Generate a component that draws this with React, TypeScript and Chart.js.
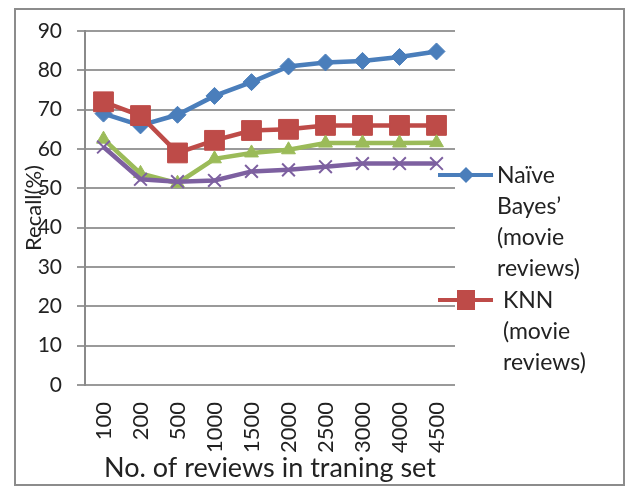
import React, { useEffect, useRef } from "react";
import { Chart, registerables } from "chart.js";

Chart.register(...registerables);

const categories = ["100", "200", "500", "1000", "1500", "2000", "2500", "3000", "4000", "4500"];
const naiveMovie = [69, 66, 68.7, 73.5, 77, 81, 82, 82.4, 83.4, 84.8];
const knnMovie = [72, 68.5, 59, 62.2, 64.7, 65, 66, 66, 66, 66];
const naiveHotel = [62.5, 53.8, 51.3, 57.5, 59, 59.8, 61.5, 61.5, 61.5, 61.6];
const knnHotel = [60.5, 52.3, 51.7, 52, 54.3, 54.7, 55.5, 56.3, 56.3, 56.3];
const yTicks = [0, 10, 20, 30, 40, 50, 60, 70, 80, 90];

const yTitle = "Recall(%)";
const xTitle = "No. of reviews in traning set";
const legendNaive = ["Naïve", "Bayes’", "(movie", "reviews)"];
const legendKnn = ["KNN", "(movie", "reviews)"];

const BLUE = "#4a7ebb";
const RED = "#be4b48";
const GREEN = "#9bbb59";
const PURPLE = "#7d60a0";
const FONT = "Lato";

const legendPlugin = {
  id: "sideLegend",
  afterDraw(chart: any) {
    const ctx = chart.ctx as CanvasRenderingContext2D;
    ctx.save();
    // y axis title
    const area = chart.chartArea;
    ctx.save();
    ctx.translate(18, (area.top + area.bottom) / 2);
    ctx.rotate(-Math.PI / 2);
    ctx.fillStyle = "#222";
    ctx.font = `22px ${FONT}`;
    ctx.textAlign = "center";
    ctx.textBaseline = "middle";
    ctx.fillText(yTitle, 0, 0);
    ctx.restore();

    const drawEntry = (color: string, y: number, lines: string[], marker: string) => {
      ctx.strokeStyle = color;
      ctx.lineWidth = 4;
      ctx.beginPath();
      ctx.moveTo(422, y);
      ctx.lineTo(477, y);
      ctx.stroke();
      ctx.fillStyle = color;
      const cx = 450;
      if (marker === "diamond") {
        const r = 8;
        ctx.beginPath();
        ctx.moveTo(cx, y - r);
        ctx.lineTo(cx + r, y);
        ctx.lineTo(cx, y + r);
        ctx.lineTo(cx - r, y);
        ctx.closePath();
        ctx.fill();
      } else {
        ctx.fillRect(cx - 9, y - 10, 18, 20);
      }
      ctx.fillStyle = "#222";
      ctx.font = `23px ${FONT}`;
      ctx.textBaseline = "middle";
      ctx.textAlign = "left";
      lines.forEach((t, i) => {
        ctx.fillText(t, marker === "diamond" ? 481 : 487, y + 1 + i * 31);
      });
    };
    drawEntry(BLUE, 165, legendNaive, "diamond");
    drawEntry(RED, 290, legendKnn, "square");
    ctx.restore();
  },
};

export default function App() {
  const ref = useRef<HTMLCanvasElement | null>(null);
  useEffect(() => {
    if (!ref.current) return;
    const chart = new Chart(ref.current, {
      type: "line",
      data: {
        labels: categories,
        datasets: [
          {
            label: "Naïve Bayes’ (movie reviews)",
            data: naiveMovie,
            borderColor: BLUE,
            backgroundColor: BLUE,
            borderWidth: 4.5,
            pointStyle: "rectRot",
            pointRadius: 8.5,
            pointBorderWidth: 1,
            order: 4,
          },
          {
            label: "KNN (movie reviews)",
            data: knnMovie,
            borderColor: RED,
            backgroundColor: RED,
            borderWidth: 4.5,
            pointStyle: "rect",
            pointRadius: 14,
            pointBorderWidth: 1,
            order: 3,
          },
          {
            label: "Naïve Bayes’ (other reviews)",
            data: naiveHotel,
            borderColor: GREEN,
            backgroundColor: GREEN,
            borderWidth: 4.5,
            pointStyle: "triangle",
            pointRadius: 8,
            pointBorderWidth: 1,
            order: 2,
          },
          {
            label: "KNN (other reviews)",
            data: knnHotel,
            borderColor: PURPLE,
            backgroundColor: PURPLE,
            borderWidth: 4.5,
            pointStyle: "crossRot",
            pointRadius: 9,
            pointBorderWidth: 2,
            order: 1,
          },
        ],
      },
      options: {
        animation: false,
        responsive: false,
        maintainAspectRatio: false,
        layout: { padding: { top: 21, right: 168, left: 0, bottom: 0 } },
        plugins: { legend: { display: false }, tooltip: { enabled: false } },
        elements: { line: { tension: 0 } },
        scales: {
          x: {
            offset: true,
            grid: { display: false, drawTicks: false },
            border: { display: false },
            ticks: {
              maxRotation: 90,
              minRotation: 90,
              padding: 17,
              color: "#222",
              font: { family: FONT, size: 22 },
            },
            title: {
              display: true,
              text: xTitle,
              color: "#222",
              font: { family: FONT, size: 27 },
              padding: { top: 0, bottom: 0 },
            },
            afterFit(scale: any) {
              scale.height = 99;
              scale.paddingLeft = 0;
              scale.paddingRight = 0;
            },
          },
          y: {
            min: 0,
            max: 90,
            afterBuildTicks(scale: any) {
              scale.ticks = yTicks.map((v) => ({ value: v }));
            },
            grid: { color: "#9a9a9a", lineWidth: 2, tickLength: 8, drawTicks: true },
            border: { display: true, color: "#8a8a8a", width: 2 },
            ticks: {
              padding: 15,
              color: "#222",
              font: { family: FONT, size: 21 },
            },
            afterFit(scale: any) {
              scale.width = 69;
              scale.paddingTop = 0;
              scale.paddingBottom = 0;
            },
          },
        },
      },
      plugins: [legendPlugin],
    });
    return () => chart.destroy();
  }, []);
  return (
    <div
      style={{
        width: 611,
        height: 478,
        marginLeft: 6,
        border: "2px solid #8c8c8c",
        boxSizing: "border-box",
        background: "#fff",
      }}
    >
      <canvas ref={ref} width={607} height={474} style={{ display: "block" }} />
    </div>
  );
}
